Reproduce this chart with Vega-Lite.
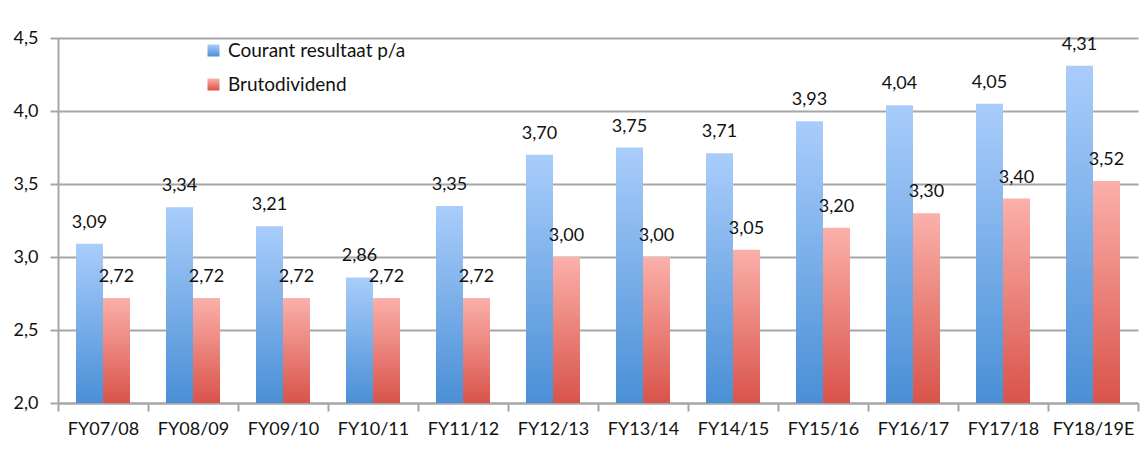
{
  "$schema": "https://vega.github.io/schema/vega-lite/v6.json",
  "width": 1080,
  "height": 365,
  "autosize": "none",
  "padding": {"left": 58, "top": 38, "right": 3, "bottom": 64},
  "background": "white",
  "config": {
    "locale": {"number": {"decimal": ",", "thousands": ".", "grouping": [3], "currency": ["€", ""]}},
    "view": {"stroke": null},
    "font": "Lato",
    "axis": {"labelFont": "Lato", "labelFontSize": 18, "labelColor": "#111111", "domainColor": "#a6a6a6", "domainWidth": 2, "tickColor": "#a6a6a6", "tickWidth": 2, "tickSize": 8, "gridColor": "#a6a6a6", "gridWidth": 2},
    "legend": {"labelFont": "Lato", "labelFontSize": 19, "labelColor": "#111111", "labelLimit": 400}
  },
  "data": {
    "values": [
      {"year": "FY07/08", "series": "Courant resultaat p/a", "value": 3.09},
      {"year": "FY08/09", "series": "Courant resultaat p/a", "value": 3.34},
      {"year": "FY09/10", "series": "Courant resultaat p/a", "value": 3.21},
      {"year": "FY10/11", "series": "Courant resultaat p/a", "value": 2.86},
      {"year": "FY11/12", "series": "Courant resultaat p/a", "value": 3.35},
      {"year": "FY12/13", "series": "Courant resultaat p/a", "value": 3.70},
      {"year": "FY13/14", "series": "Courant resultaat p/a", "value": 3.75},
      {"year": "FY14/15", "series": "Courant resultaat p/a", "value": 3.71},
      {"year": "FY15/16", "series": "Courant resultaat p/a", "value": 3.93},
      {"year": "FY16/17", "series": "Courant resultaat p/a", "value": 4.04},
      {"year": "FY17/18", "series": "Courant resultaat p/a", "value": 4.05},
      {"year": "FY18/19E", "series": "Courant resultaat p/a", "value": 4.31},
      {"year": "FY07/08", "series": "Brutodividend", "value": 2.72},
      {"year": "FY08/09", "series": "Brutodividend", "value": 2.72},
      {"year": "FY09/10", "series": "Brutodividend", "value": 2.72},
      {"year": "FY10/11", "series": "Brutodividend", "value": 2.72},
      {"year": "FY11/12", "series": "Brutodividend", "value": 2.72},
      {"year": "FY12/13", "series": "Brutodividend", "value": 3.00},
      {"year": "FY13/14", "series": "Brutodividend", "value": 3.00},
      {"year": "FY14/15", "series": "Brutodividend", "value": 3.05},
      {"year": "FY15/16", "series": "Brutodividend", "value": 3.20},
      {"year": "FY16/17", "series": "Brutodividend", "value": 3.30},
      {"year": "FY17/18", "series": "Brutodividend", "value": 3.40},
      {"year": "FY18/19E", "series": "Brutodividend", "value": 3.52}
    ]
  },
  "encoding": {
    "x": {
      "field": "year", "type": "nominal", "sort": null, "title": null,
      "scale": {"paddingInner": 0, "paddingOuter": 0},
      "axis": {"labelAngle": 0, "tickBand": "extent", "labelPadding": 9, "grid": false}
    },
    "xOffset": {
      "field": "series", "type": "nominal",
      "scale": {"domain": ["Courant resultaat p/a", "Brutodividend"], "paddingInner": 0, "paddingOuter": 0.6667}
    },
    "y": {
      "field": "value", "type": "quantitative", "title": null,
      "scale": {"domain": [2, 4.5], "nice": false, "zero": false},
      "axis": {"values": [2, 2.5, 3, 3.5, 4, 4.5], "format": ".1f", "labelPadding": 12}
    }
  },
  "layer": [
    {
      "mark": {"type": "bar"},
      "encoding": {
        "y2": {"datum": 2},
        "fill": {
          "field": "series", "type": "nominal",
          "scale": {
            "domain": ["Courant resultaat p/a", "Brutodividend"],
            "range": [
              {"expr": "{gradient: 'linear', x1: 0, y1: 0, x2: 0, y2: 1, stops: [{offset: 0, color: '#a9cdfb'}, {offset: 1, color: '#4a8fd6'}]}"},
              {"expr": "{gradient: 'linear', x1: 0, y1: 0, x2: 0, y2: 1, stops: [{offset: 0, color: '#fbb0aa'}, {offset: 1, color: '#d9534a'}]}"}
            ]
          },
          "legend": {
            "title": null, "orient": "none", "legendX": 146, "legendY": 3,
            "symbolType": "square", "symbolSize": 144, "symbolStrokeWidth": 0,
            "labelOffset": 5, "rowPadding": 14, "padding": 0, "labelLimit": 400
          }
        }
      }
    },
    {
      "mark": {"type": "text", "baseline": "alphabetic", "dy": -16, "fontSize": 18, "font": "Lato", "color": "#111111"},
      "encoding": {
        "text": {"field": "value", "type": "quantitative", "format": ".2f"}
      }
    }
  ]
}
